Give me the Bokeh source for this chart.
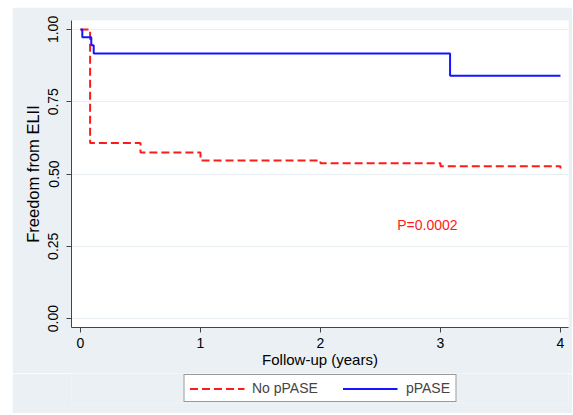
import math
from bokeh.plotting import figure
from bokeh.layouts import column
from bokeh.models import Range1d, FixedTicker, Legend, LegendItem, Label
from bokeh.embed import file_html
from bokeh.resources import INLINE

# Kaplan-Meier step data
no_ppase_x = [0.0, 0.08, 0.5, 1.0, 2.0, 3.0, 4.0]
no_ppase_y = [1.0, 0.607, 0.574, 0.547, 0.537, 0.527, 0.519]
ppase_x = [0.0, 0.015, 0.09, 0.11, 3.08, 4.0]
ppase_y = [1.0, 0.973, 0.945, 0.917, 0.84, 0.84]

x_ticks = [0, 1, 2, 3, 4]
y_ticks = [0.0, 0.25, 0.5, 0.75, 1.0]
y_tick_labels = ["0.00", "0.25", "0.50", "0.75", "1.00"]
p_value_text = "P=0.0002"
series_names = ["No pPASE", "pPASE"]

BG = "#eaf0f3"
FONT = "Liberation Sans"
AXC = "#444444"
RED = "#ff1a1a"
BLUE = "#1414ff"

p = figure(width=560, height=366, output_backend="svg", toolbar_location=None,
           x_range=Range1d(-0.075, 4.067), y_range=Range1d(-0.031, 1.031),
           min_border_left=59, min_border_right=4, min_border_top=13, min_border_bottom=46)
p.margin = (7, 1, 0, 12)
p.border_fill_color = BG
p.background_fill_color = "white"
p.outline_line_color = None

p.step(no_ppase_x, no_ppase_y, mode="after", line_color=RED, line_width=2, line_dash="8 4")
p.step(ppase_x, ppase_y, mode="after", line_color=BLUE, line_width=2)

# axes
p.xaxis.ticker = FixedTicker(ticks=x_ticks)
p.yaxis.ticker = FixedTicker(ticks=y_ticks)
p.yaxis.major_label_overrides = {t: l for t, l in zip(y_ticks, y_tick_labels)}
p.yaxis.major_label_orientation = "vertical"
p.xaxis.axis_label = "Follow-up (years)"
p.yaxis.axis_label = "Freedom from ELII"
for ax in (p.xaxis, p.yaxis):
    ax.axis_line_color = AXC
    ax.axis_line_width = 1
    ax.major_tick_line_color = AXC
    ax.major_tick_out = 5
    ax.major_tick_in = 0
    ax.minor_tick_line_color = None
    ax.major_label_text_font = FONT
    ax.major_label_text_font_size = "14px"
    ax.major_label_text_color = "black"
    ax.axis_label_text_font = FONT
    ax.axis_label_text_font_style = "normal"
    ax.axis_label_text_color = "black"
p.xaxis.major_label_standoff = 5
p.xaxis.axis_label_standoff = 0
p.xaxis.axis_label_text_font_size = "15px"
p.yaxis.major_label_standoff = 8
p.yaxis.axis_label_standoff = 4
p.yaxis.axis_label_text_font_size = "16.5px"

p.xgrid.grid_line_color = None
p.ygrid.grid_line_color = "#e6eef1"
p.ygrid.grid_line_width = 1

p.add_layout(Label(x=2.64, y=0.322, text=p_value_text, text_color=RED,
                   text_font=FONT, text_font_size="14px", text_baseline="middle",
                   text_align="left"))

# legend strip below the plot (its series are drawn out of view; only the key shows)
lg = figure(width=560, height=40, output_backend="svg", toolbar_location=None,
            x_range=Range1d(100, 101), y_range=Range1d(100, 101),
            min_border_left=56, min_border_right=0, min_border_top=0, min_border_bottom=10,
            x_axis_location=None, y_axis_location=None)
lg.margin = (0, 1, 2, 12)
lg.border_fill_color = BG
lg.background_fill_color = BG
lg.outline_line_color = None
lg.grid.visible = False
d_no = lg.line(no_ppase_x, no_ppase_y, line_color=RED, line_width=2, line_dash="8 4")
d_pp = lg.line(ppase_x, ppase_y, line_color=BLUE, line_width=2)

legend = Legend(items=[LegendItem(label=series_names[0], renderers=[d_no]),
                       LegendItem(label=series_names[1], renderers=[d_pp])],
                orientation="horizontal", location="center")
legend.label_text_font = FONT
legend.label_text_font_size = "14px"
legend.glyph_width = 55
legend.glyph_height = 15
legend.label_height = 15
legend.label_standoff = 8
legend.spacing = 25
legend.padding = 5
legend.margin = 0
legend.border_line_color = "#333333"
legend.border_line_width = 1
legend.background_fill_color = "white"
legend.background_fill_alpha = 1
lg.add_layout(legend, "center")

layout = column(p, lg, spacing=0)
open("out.html", "w").write(file_html(layout, INLINE))
